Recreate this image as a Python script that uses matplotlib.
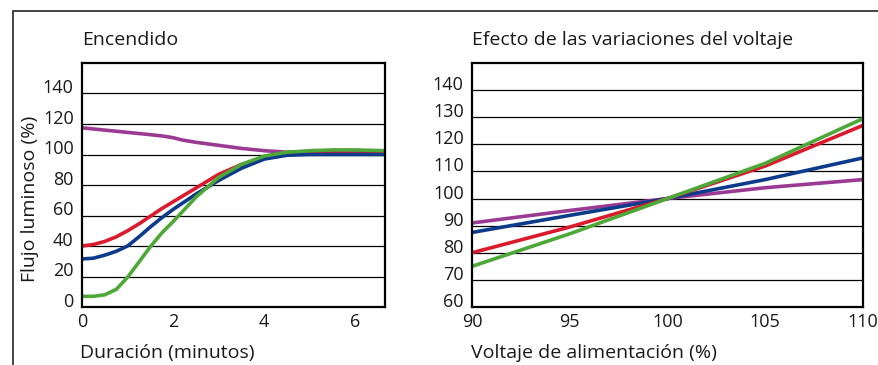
import matplotlib
matplotlib.use("Agg")
import matplotlib.pyplot as plt
from matplotlib.lines import Line2D

plt.rcParams['font.family'] = ['Open Sans', 'DejaVu Sans']

PURPLE = "#9a3a92"
BLUE = "#0d3b8c"
RED = "#dc1a2e"
GREEN = "#4da838"
TEXT = "#1a1a1a"

# encendido (warm-up) curves, minutes vs luminous flux %
t_purple = [0, 0.5, 1, 1.5, 1.8, 2, 2.2, 2.5, 3, 3.5, 4, 4.5, 5, 6, 6.65]
f_purple = [117.5, 116, 114.5, 113, 112, 111, 109.5, 108, 106, 104, 102.5, 101.5, 101.5, 101.5, 101.5]

t_curve = [0, 0.25, 0.5, 0.75, 1, 1.25, 1.5, 1.75, 2, 2.5, 3, 3.5, 4, 4.5, 5, 5.5, 6, 6.65]
f_red = [40, 41, 43, 46, 50, 54.5, 59.5, 64.5, 69, 78, 87, 93.5, 98, 100, 101, 101, 100.5, 100.5]
f_blue = [31.5, 32, 34, 36.5, 40, 46, 52.5, 58.5, 64, 74, 83, 91, 97, 99.5, 100, 100, 100, 100]
f_green = [7, 7, 8, 11.5, 19.5, 29.5, 39.5, 48.5, 56, 72, 85, 93.5, 99, 101.5, 102.5, 103, 103, 102.5]

# voltage variation curves
volt = [90, 95, 100, 105, 110]
v_purple = [91, 95.6, 100, 104, 107]
v_blue = [87.5, 93.8, 100, 107, 115]
v_red = [80, 89.5, 100, 112, 127]
v_green = [75, 87, 100, 113, 129.5]

left_yticks = [0, 20, 40, 60, 80, 100, 120, 140]
left_xticks = [0, 2, 4, 6]
right_yticks = [60, 70, 80, 90, 100, 110, 120, 130, 140]
right_xticks = [90, 95, 100, 105, 110]

W, H = 879, 365
fig = plt.figure(figsize=(W / 100, H / 100), dpi=100)

ax1 = fig.add_axes([82 / W, 1 - 307 / H, (385 - 82) / W, (307 - 63) / H])
ax2 = fig.add_axes([472 / W, 1 - 307 / H, (863 - 472) / W, (307 - 63) / H])

LW = 2.6
ax1.plot(t_purple, f_purple, color=PURPLE, lw=LW, solid_capstyle="butt")
ax1.plot(t_curve, f_red, color=RED, lw=LW, solid_capstyle="butt")
ax1.plot(t_curve, f_blue, color=BLUE, lw=LW, solid_capstyle="butt")
ax1.plot(t_curve, f_green, color=GREEN, lw=LW, solid_capstyle="butt")
ax1.set_xlim(0, 6.65)
ax1.set_ylim(0, 160)

ax2.plot(volt, v_purple, color=PURPLE, lw=LW, solid_capstyle="butt")
ax2.plot(volt, v_blue, color=BLUE, lw=LW, solid_capstyle="butt")
ax2.plot(volt, v_red, color=RED, lw=LW, solid_capstyle="butt")
ax2.plot(volt, v_green, color=GREEN, lw=LW, solid_capstyle="butt")
ax2.set_xlim(90, 110)
ax2.set_ylim(60, 150)

for ax, xt, yt in [(ax1, left_xticks, left_yticks), (ax2, right_xticks, right_yticks)]:
    ax.set_xticks(xt)
    ax.set_yticks(yt)
    for y in yt[1:]:
        ax.axhline(y, color="black", lw=0.9, zorder=0.5)
    ax.tick_params(length=0, labelsize=13, labelcolor=TEXT, pad=4)
    ax.tick_params(axis="y", pad=6)
    for lab in ax.get_yticklabels():
        lab.set_verticalalignment("baseline")
    for s in ax.spines.values():
        s.set_linewidth(1.6)
        s.set_color("black")

ax1.set_title("Encendido", loc="left", fontsize=14, color=TEXT, pad=13)
ax2.set_title("Efecto de las variaciones del voltaje", loc="left", fontsize=14, color=TEXT, pad=13)

ax1.text(-0.005, -51 / 244, "Duración (minutos)", transform=ax1.transAxes,
         fontsize=14, color=TEXT, ha="left", va="baseline")
ax2.text(-0.003, -51 / 244, "Voltaje de alimentación (%)", transform=ax2.transAxes,
         fontsize=14, color=TEXT, ha="left", va="baseline")
fig.text(30 / W, 1 - 199 / H, "Flujo luminoso (%)", rotation=90, fontsize=14,
         color=TEXT, ha="center", va="center")

# outer frame (left and top edges)
fig.add_artist(Line2D([13 / W, 13 / W, 1], [0, 1 - 11 / H, 1 - 11 / H],
                      transform=fig.transFigure, color="#222222", lw=1.2))

fig.savefig("out.png", dpi=100)
